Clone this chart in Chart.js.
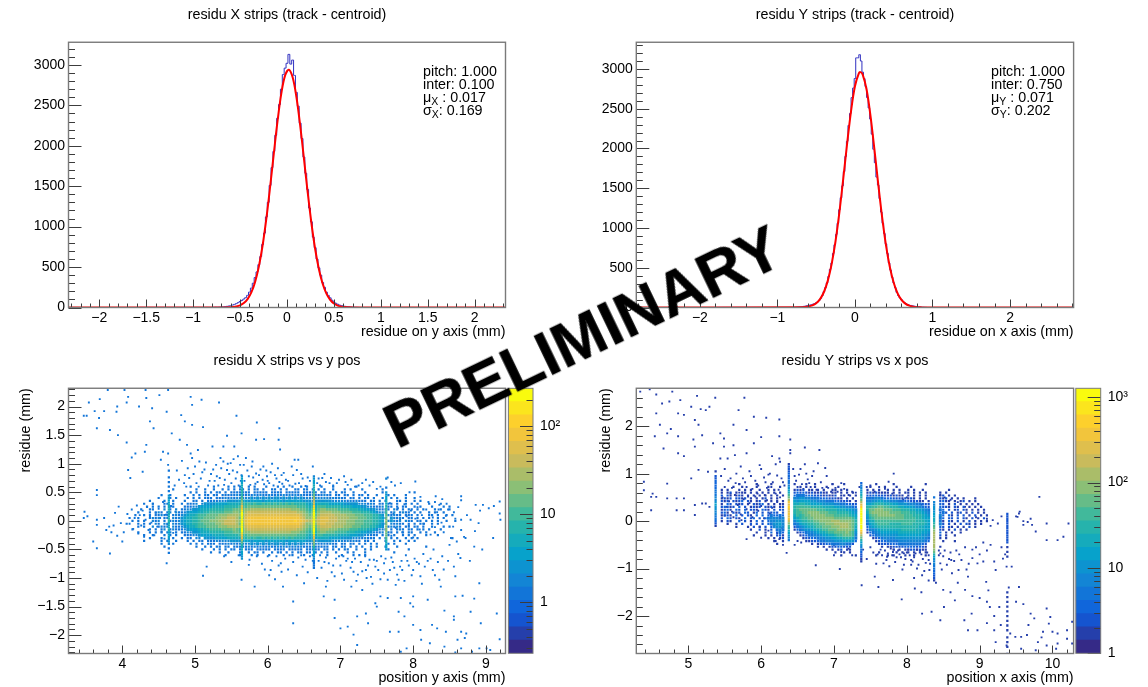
<!DOCTYPE html>
<html><head><meta charset="utf-8">
<style>
html,body{margin:0;padding:0;background:#fff;overflow:hidden;width:1148px;height:687px;font-family:"Liberation Sans",sans-serif}
body{filter:blur(.3px)}
canvas{position:absolute}
.stat{position:absolute;font-size:14.3px;line-height:14px;color:#000;white-space:nowrap}
.stat sub{font-size:10.5px;line-height:0;vertical-align:-3px}
#prelim{position:absolute;left:368px;top:303px;width:400px;height:80px;text-align:center;font:bold 63px/80px "Liberation Sans",sans-serif;color:#000;-webkit-text-stroke:.5px #000;transform:rotate(-25.6deg);white-space:nowrap}
</style>
<script src="https://cdn.jsdelivr.net/npm/chart.js@4"></script>
</head><body>
<canvas id="c1" width="574" height="341" style="left:0;top:0"></canvas>
<canvas id="c2" width="586" height="341" style="left:562px;top:0"></canvas>
<canvas id="c3" width="574" height="341" style="left:0;top:346px"></canvas>
<canvas id="c4" width="586" height="341" style="left:562px;top:346px"></canvas>
<canvas id="z3" width="68" height="341" style="left:506px;top:346px"></canvas>
<canvas id="z4" width="75" height="341" style="left:1073px;top:346px"></canvas>
<div class="stat" style="left:423px;top:64px">pitch: 1.000</div>
<div class="stat" style="left:423px;top:77px">inter: 0.100</div>
<div class="stat" style="left:423px;top:90px">μ<sub>X</sub> : 0.017</div>
<div class="stat" style="left:423px;top:103px">σ<sub>X</sub>: 0.169</div>
<div class="stat" style="left:991px;top:64px">pitch: 1.000</div>
<div class="stat" style="left:991px;top:77px">inter: 0.750</div>
<div class="stat" style="left:991px;top:90px">μ<sub>Y</sub> : 0.071</div>
<div class="stat" style="left:991px;top:103px">σ<sub>Y</sub>: 0.202</div>
<div id="prelim">PRELIMINARY</div>
<script>
const FONT='"Liberation Sans",sans-serif';
const palette=['#352a87','#253fab','#1554cf','#1066db','#1275d8','#1385d5','#0d93d0','#07a2cb','#15abbc','#26b3ac','#41b99b','#66bc88','#8bbf76','#aabd69','#c9bb5c','#dfbf4d','#f2c53c','#fdd02c','#fbe51d','#f9fb0e'];

// residual histograms: counts per 0.02 mm bin, starting at the first bin centre
const histBinStart=-0.80, histBinWidth=0.02;
const histX=[1,2,4,3,5,6,8,10,14,18,22,30,38,48,60,74,88,105,122,150,190,240,300,370,440,530,630,780,920,1120,1300,1510,1730,1930,2130,2340,2510,2700,2880,2960,3020,3130,3010,3060,2870,2660,2490,2280,2090,1860,1660,1460,1230,1060,870,740,600,490,400,310,250,190,150,120,90,68,52,40,30,24,18,14,10,8,6,4,3,2,1];
const histY=[1,2,3,5,7,9,11,14,17,22,26,30,36,42,50,60,72,90,115,150,200,250,310,390,480,560,680,790,920,1060,1230,1380,1530,1710,1900,2090,2290,2440,2640,2760,2880,3140,3140,3180,3100,2960,2880,2780,2640,2510,2370,2180,1990,1820,1640,1540,1370,1200,1060,930,800,680,560,470,380,310,250,190,150,120,100,78,60,48,38,30,26,22,18,14,11,8,6,4,3,2,1];
// fitted curves
const fitXx=[-2.33,-0.66,-0.62,-0.58,-0.54,-0.50,-0.46,-0.42,-0.38,-0.34,-0.30,-0.26,-0.22,-0.18,-0.14,-0.10,-0.06,-0.02,0.02,0.06,0.10,0.14,0.18,0.22,0.26,0.30,0.34,0.38,0.42,0.46,0.50,0.54,0.58,0.62,0.66,0.72,2.33];
const fitXy=[0,1,2,6,13,27,55,104,186,316,506,767,1099,1490,1909,2313,2650,2870,2940,2846,2606,2256,1847,1428,1045,723,473,293,171,95,49,24,11,5,2,0,0];
const fitYx=[-2.82,-0.70,-0.65,-0.60,-0.55,-0.50,-0.45,-0.40,-0.35,-0.30,-0.25,-0.20,-0.15,-0.10,-0.05,0,0.05,0.07,0.10,0.15,0.20,0.25,0.30,0.35,0.40,0.45,0.50,0.55,0.60,0.65,0.70,0.75,0.80,0.85,0.92,2.82];
const fitYy=[0,2,5,12,26,54,106,195,338,548,837,1203,1627,2069,2474,2783,2944,2960,2930,2742,2414,1998,1556,1140,785,509,311,178,96,49,23,10,4,2,0,0];

// tick labels
const ticksTLx=[-2,-1.5,-1,-0.5,0,0.5,1,1.5,2], ticksHistY=[0,500,1000,1500,2000,2500,3000];
const ticksTRx=[-2,-1,0,1,2];
const ticksBLx=[4,5,6,7,8,9], ticksBLy=[-2,-1.5,-1,-0.5,0,0.5,1,1.5,2];
const ticksBRx=[5,6,7,8,9,10], ticksBRy=[-2,-1,0,1,2];

// dense cells of residue vs position, colour band per cell, rows top to bottom
const gridLx0=3.98, gridLdx=0.04, gridLy0=0.60, gridLdy=0.05;
const gridL=[
"....................  ....4.......4....4.4. 4..4.4...4...4.4..4..4. 4.. ..4...4.......4....... ..........................",
"..................4. ......4..4..4..4.4.4. 44.4.44.4..44.4.4..44.4 4.4 .4.4..4...4.4...4.... ..4.......................",
".................... ....4.4..4.4.44.4.444 4444.44444.4444.44444.4 444 4.44.4.4.44..4...4... ..4..........4............",
"..............4..4.. ..4..4.4.44.44.4444454 44545454454454545454544 454 44544.44.44.4.44.4..4. ..4.4...4.................",
".............4...4.4 ...4.4.4.444.444545455 55565656565665656565655 545 5555454544.44.4.44.4.. 4..4.4..4..4..............",
"..........4....4..4. ..4..44.4.445455566667 77677776777777677777766 656 66666555554545444.44.4 .4...44.4..4.4...........",
"........4..4...44.4. .4.4445.56666777788888 99a9a99a9a9a9a9a9a99998 777 88887777766666555454.4 4.44.4..4.4.4...4...4.....",
".........4.4.4.4.44. ..4445567777888899999a aabbbbbbbbbbbbbbbbbaaa9 888 aaa9999988887776655444 5.44.4.44..4.4...4...4.4..",
".......4..44...5.4.5 .445566788899999aaabbb bccddddddddddddddcccbba 9a9 bccbbbbaaaa99988776654 454.54.4.44.4.4...4.4..4..",
"......4...4.454.45.5 44567778899aaaaabbbccb bdeeeeeeeeeeeeeeeeeddcb aba cddddcccbbbbaaa9998765 55.45.4544.4.4..4.4..4....",
".....4..4.4.44544.45 4567889aaabbbbcccddddc ceffffffffffffffffffedc bcb deeeeeddddcccbbbaaa998 6.54544.444.4...44.4..4.4.",
"...4..4...4545.44.54 5678899aabbbbccddeeedb cfggggggggggggggggggfec cdc efffeeeddddcccbbbaa998 75.65454.44.4.4.4..4.4....",
"....4.4.4..545.4.454 5678899abbbcccddeeeedc dfgggggggggggggggghggfe ded efffeeedddcccbbbaaa998 7.56545.544.44.4.4.4..4..4",
"..4...4.4.4.54.54.54 5678899aabbbbccdeeeedb cfggggggggggggggggggfec cdc effeeeddddcccbbbaaa998 65.54544.4.4.44..4.4......",
"......4.4..5.4545.54 4567889aaabbbbcccddddc ceffffffffffffffffffedc bcb deeeeddddcccbbbaaa9987 6.45454.44.44.4..4...4.4..",
"....4.....4.4.45.454 44567778899aaaabbbbcba bdeeeeeeeeeeeeeeeeeddcb aba cdddcccbbbbaaa99988765 54.4.454.44.4.4.4...4.....",
"......4...4.4.4.45.4 .445566788899999aaabba bccddddddddddddddcccbba 9a9 bccbbbaaaa999887766544 5.44.4.4.44..4.4..4.......",
"........4..4...4.4.4 ..4445567777888899999a aabbbbbbbbbbbbbbbbbaaa9 888 aa9999988887776655444. 4.4.4..4.4.4...4...4......",
"..........4...4...4. .4.44.55.6666777788888 99a9a99a9a9a9a9a9a99998 777 88887777666655545444.4 .4.4.4..4.4.4...........4",
"........4.....4.4..4 ...4.4.44.4445455566667 77677776777777677777766 656 66665555454544.44.4... 4..4.4..4.4...............",
"..............4...4. ....4.4.4.444.44454545 55565656565665656565655 545 5454544.44.44.4.4.4.4. ..4.4...4.................",
"...............4.... ......4..4.4.44.44.444 44545454454454545454544 454 4444.44.44.4.4.4..4.4. .4...4.........4..........",
".................... ........4...4.4.4.44.4 .444.44444.4444.44444.4 444 4.44.4.4.44..4..4.4... ..4......4................",
".................... ...........4..4..4...4 ..4.44.4..4.44.4.4.44.4 4.4 .4.4..4...4.4...4..... ....4.....................",
".................... ................4....4 ...4.4...4....4..4...4. .4. ...4....4...4.4.4..... ........................."
];
const gridRx0=5.46, gridRdx=0.04, gridRy0=0.78, gridRdy=0.06;
const gridR=[
"......1.....1....1.... ... 1...1..1.....1...1.... ... ...1.....1..........1. ... .................",
"....1..1....1...1...1. ... ..1.1..1...1...1...... ... .1....1...1....1...... ... .................",
"1.1...1.1.1..1..1.1... ... 1212.11.1.1..11.1.1... ... 1.1.1..1.1.1..1.1..1.. ... ...1.............",
"1.12.1.11.1.1.1.1.1.1. ... 232321211211.11.1.1.1. ... 12121111.1.1.11.1.1.1. ... 1.1..............",
"2.21.121.1.1.1.1.1.1.1 ... 344433322212112.11.1.1 ... 2233222121211.1.1.1.1. ... 12.1.1...........",
"1212.2212.1.1.12.1.1.. ... 55665544433322211.1.1. ... 44455433322212121.1.1. ... 212.1.1.1...1....",
"212.2123.21.12.1.1.1.1 ... 76777766555444332221.1 ... 55667766555443322211.1 ... 2311.1.12.1.1....",
"1.32.212.1.2123.1.1.11 ... 8899887777666655443322 ... 7789998887766655544322 ... 32.1.2.1.1.1.1...",
"23212.3.2.1212.2121.12 ... 9aaaaa9999888877665543 ... 99aabbaa99988777655432 ... 3221.21.2.1.1.1..",
"1231.32.3.221.321.2.22 ... 9abbbbbbaaa99998887765 ... 9bbcccbbbaaa9998877654 ... 43.2.12.21.1.1.1.",
"231.212.32.13.2.2232.2 ... 9aabbccccbbbaaa9999876 ... 8bccccccbbbbaaa9988765 ... 342.2.12.1.2.1.1.",
"1221.3.2.21.3.3.243343 ... 8a9abbcccccbbbaaaaa987 ... 7abbccccccbbbaaa999876 ... 53.31.2.2.1.2.1.1",
"2.32.21.3.23.2.3455545 ... 789aabbcccccccbbbbbba8 ... 69abbbbbbbbbbaaaa99877 ... 43.22.2.21.2.1.2.",
"1.21..3.2.1.3.2.355665 ... 57899aabbccccdddccccb9 ... 588aaaaaaaaaaaaaa99987 ... 41.31.2.1.2.1.1.1",
"..1..1.2..2.2.2.346675 ... 4578899aabbcccdddddcb9 ... 4789aaaa9999aaaa999987 ... 52.2.1.2.21.1.1..",
".....1...1.2.1.2.35665 ... 24567889aabbbcccdddcb8 ... 3678999999999999998877 ... 32.21.1.1.2.1....",
"..........1..2.1.2.454 ... 1345667889aabbbcccccb7 ... 2556788888889999988877 ... 21.1.2.1.1.......",
"............1..1.3.243 ... .12345567889aabbbbcba6 ... 1345677777788888888776 ... 3.1.1..1.........",
"...........1...1.1.231 ... ..1234455677889aabbba5 ... .234566666677777777665 ... 2.1..1...........",
"................1.1.12 ... ...1223345566778899984 ... ..12345555666666666654 ... 1.1..............",
"..................1..1 ... ....112234455566677763 ... ...1233444455555555543 ... .1...1...........",
"...................1.. ... ......1.1223344455442. ... ....12223334444444432. ... .................",
"...................... ... ........1.1.12233222.. ... .....1.11222233332321. ... 1................",
"...................... ... ...........1.1.12.11.. ... .........1.1.11221211. ... .................",
"...................... ... ..............1..1.1.. ... ....1.....1.1.1.1.1.1. ... .................",
"...................... ... ................1....1 ... ...1...1.1...1..1...1. ... ................."
];
// strip columns: x position, top y, and colour bands going down
const stripDyL=0.04, stripDyR=0.05;
const stripsLx=[4.64,5.645,6.635,7.63], stripsLtop=[0.88,0.78,0.78,0.74];
const stripsL=["4..4.4.4.4.6677888888998888777665.4.4","677788999abcdfgijjjjjjjjjigfdb9887766","5677889abcdefhijjjjjjjjjjjhfdcb9877654444","5...4.66778899aabbccccccbba98776"];
const stripsRx=[5.375,6.38,7.375,8.375,9.38], stripsRtop=[1.05,1.2,0.8,0.5,0.15];
const stripsR=["1.2233334445567665544321","1222333445678abdgfhgfgfgeca987654","3456789bdfhjjjjjjjjjhfdb9765432211","4.5566677889abcdddddddcb976554433221","2222222222222.1.1.1..............1.1.1.1.1.1.1.1.1..1.1.1..1"];

// single-count cells, x,y pairs
const sparseL=[3.47,1.84,3.51,1.84,3.54,2.07,3.62,1.92,3.69,2.13,3.80,2.29,3.75,1.92,3.68,1.80,3.65,1.62,3.83,1.59,3.94,1.50,3.93,2.00,3.92,1.91,4.03,2.29,4.08,2.17,4.06,2.07,4.23,2.0,4.33,2.15,4.32,2.29,4.51,2.2,4.63,2.29,4.38,1.74,4.43,1.62,4.41,1.97,4.61,1.91,4.81,1.85,4.94,2.17,4.96,2.03,5.09,2.12,5.33,2.07,4.86,1.74,4.96,1.68,5.11,1.64,5.57,1.84,5.85,1.72,6.16,1.62,5.44,1.49,5.64,1.53,5.84,1.42,5.95,1.43,6.15,1.42,6.17,1.25,5.54,1.30,5.39,1.30,5.24,1.3,5.04,1.24,4.94,1.18,4.63,1.18,4.56,1.21,4.33,1.33,4.31,1.21,4.18,1.18,4.13,1.11,4.06,1.37,4.68,1.53,4.79,1.42,4.89,1.33,4.08,.89,4.11,.75,4.28,.86,4.53,1.07,4.63,.98,4.86,.8,4.96,1.1,5.06,1.04,5.29,.98,5.39,1.04,5.49,1.01,5.59,1.13,5.67,.98,5.79,1.04,5.94,.95,6.37,1.07,6.42,1.07,6.14,.92,5.84,.83,5.64,.8,5.44,.89,5.34,.75,5.99,.78,6.19,.8,6.4,.89,6.75,.75,6.87,.75,7.05,.78,7.65,.76,8.03,.69,7.83,.66,
4.72,.62,4.78,.72,4.85,.66,4.9,.92,4.98,.82,5.02,.66,5.08,.74,5.13,.9,5.18,.62,5.22,.82,5.27,.7,5.32,.62,5.36,.92,5.41,.72,5.45,1.0,5.5,.66,5.52,.88,5.56,.74,5.6,.62,5.62,.98,5.68,.7,5.72,.88,5.76,.63,5.8,.76,5.86,.68,5.9,.9,5.95,.64,6,.7,6.04,.85,6.08,.62,6.12,.74,6.2,.65,6.25,.72,6.3,.62,6.35,.8,6.43,.66,6.48,.74,6.52,.61,6.58,.7,6.68,.66,6.72,.62,6.8,.68,6.9,.62,6.95,.66,7.1,.63,7.2,.6,7.3,.66,7.4,.62,7.55,.6,7.75,.62,7.95,.5,8.1,.42,8.3,.33,
4.75,.88,4.82,1.05,4.88,.6,4.92,.75,5,.95,5.05,.6,5.1,.85,5.15,1.02,5.2,.7,5.25,.9,5.3,.78,5.35,1.1,5.4,.63,5.47,.82,5.53,1.08,5.58,.85,5.63,.7,5.7,1.1,5.74,.78,5.78,.95,5.83,.65,5.88,.8,5.93,.72,5.98,.88,6.02,.66,6.06,1.0,6.1,.8,6.16,.68,6.22,.84,6.28,.7,6.33,.95,6.38,.65,6.46,.82,6.55,.76,6.62,.95,6.7,.74,6.78,.82,6.85,.66,6.98,.72,7.07,.68,7.15,.72,7.25,.62,7.35,.72,7.45,.68,7.5,.56,7.7,.68,
4.61,-.74,5.16,-.8,5.11,-.96,5.64,-1.03,5.82,-1.15,5.74,-.77,6.04,-.86,6.19,-.89,6.35,-1.41,6.35,-1.79,6.21,-1.15,6.5,-1.09,6.77,-1.32,6.8,-1.15,6.92,-.97,6.92,-1.38,7.0,-1.88,6.92,-1.7,7.18,-1.99,7.23,-2.17,7.1,-1.85,7.23,-1.67,7.38,-1.79,7.35,-1.62,7.48,-1.44,7.5,-1.5,7.55,-1.32,7.3,-1.21,7.15,-1.15,7.05,-1.03,7.18,-.89,7.35,-.86,7.48,-.8,7.6,-.92,7.65,-1.03,7.8,-1.03,7.85,-.86,8,-.86,8.1,-.97,8.27,-.86,8.36,-1.03,8.58,-.97,8.91,-1.09,8.38,-1.15,8,-1.32,7.83,-1.35,7.65,-1.35,8,-1.5,8.2,-1.38,7.96,-1.44,8.58,-1.32,8.68,-1.31,8.84,-1.36,7.8,-1.59,7.88,-1.67,8.43,-1.57,8.79,-1.59,8.56,-1.67,8.56,-1.73,9.15,-1.62,8.1,-1.91,8.26,-1.82,8.33,-1.88,7.68,-1.94,7.8,-1.94,8,-1.82,8.45,-1.94,8.66,-1.94,8.73,-1.97,8.93,-1.79,8.11,-2.08,8.23,-2.14,8.43,-2.2,8.61,-2.08,8.71,-2.05,9.19,-2.07,7.83,-2.29,7.91,-2.23,8.66,-2.23,8.81,-2.29,8.58,-2.3,8.91,-2.23,9.01,-2.23,9.06,-2.26,
6,-.62,6.06,-.7,6.12,-.62,6.18,-.74,6.24,-.66,6.3,-.6,6.35,-.72,6.42,-.64,6.48,-.8,6.52,-.68,6.58,-.62,6.7,-.7,6.74,-.82,6.8,-.64,6.84,-.74,6.88,-.9,6.94,-.66,7,-.78,7.04,-.62,7.08,-.7,7.14,-.82,7.2,-.66,7.24,-.94,7.28,-.72,7.34,-.62,7.38,-.78,7.42,-.98,7.46,-.68,7.52,-.86,7.56,-.62,7.6,-.74,7.7,-.64,7.74,-.82,7.78,-.94,7.84,-.7,7.9,-.6,7.94,-.78,8.02,-.66,8.08,-.75,8.14,-.58,8.2,-.7,8.28,-.5,8.4,-.62,8.5,-.42,8.62,-.58,8.72,-.3,8.84,-.45,8.95,-.5,9.1,-.3,
5.4,-.62,5.5,-.72,5.6,-.6,5.75,-.68,5.85,-.62,5.92,-.75,5.96,-.85,6.02,-.95,6.1,-1.02,6.15,-.78,6.28,-.85,6.4,-.95,6.46,-.6,6.55,-.9,6.62,-.7,6.68,-1,6.72,-.6,6.78,-.72,6.82,-1.05,6.9,-.78,6.98,-.62,7.02,-.92,7.1,-.66,7.16,-.72,7.22,-1.05,7.3,-.88,7.36,-1,7.4,-.68,7.44,-1.1,7.5,-.7,7.55,-1.02,7.62,-.66,7.68,-.86,7.72,-.72,7.76,-1.12,7.82,-.8,7.88,-1.05,7.92,-.7,7.98,-.95,8.05,-.72,8.12,-1.1,8.16,-.8,8.24,-.66,8.3,-.95,8.34,-.72,8.42,-.85,8.48,-.7,8.56,-.8,8.65,-.65,8.78,-.7,
3.48,.16,3.47,.05,3.52,.08,3.65,.54,3.65,.45,3.65,.02,3.65,-.07,3.6,-.36,3.65,-.48,3.83,-.57,3.78,-.16,3.85,-.2,3.98,-.04,3.95,.25,3.9,.14,3.88,-.08,3.82,-.1,3.93,-.26,4,-.36,4.02,-.2,3.75,.05,
4.07,.12,4.1,-.05,4.13,.2,4.15,-.14,4.17,.05,4.2,.27,4.22,-.22,4.24,.1,4.26,-.08,4.28,.18,4.3,-.28,4.32,.02,4.34,.24,4.36,-.16,4.38,.08,4.4,-.03,4.42,.3,4.44,-.25,4.46,.14,4.48,-.1,4.5,.21,4.52,.05,4.54,-.19,4.56,.33,4.58,-.31,4.6,.11,4.62,-.06,4.67,.26,4.7,-.21,4.73,.16,
7.68,.31,7.7,-.26,7.73,.12,7.76,-.12,7.79,.22,7.82,.03,7.85,-.2,7.88,.29,7.91,.08,7.94,-.08,7.97,.18,8,-.29,8.03,.04,8.06,.24,8.09,-.15,8.12,.1,8.15,-.05,8.18,.2,8.21,.33,8.24,-.24,8.27,.06,8.3,-.11,8.33,.15,8.36,.28,8.39,-.03,8.42,-.2,8.45,.09,8.48,.2,8.52,-.3,8.58,.04,
8.31,.43,8.66,.43,8.66,.36,9.19,.34,9.19,.13,8.86,.28,8.96,.28,8.66,.02,8.79,.02,8.66,-.16,8.6,-.36,8.92,.18,9.04,.22,9.11,.26,8.74,.1,8.56,.15,8.62,.24,8.46,.3,8.4,.38,8.35,.2,8.9,-.04,9.2,.02,8.85,-.18,8.7,-.28,8.55,-.1];
const sparseR=[4.34,2.73,4.47,2.78,4.56,2.67,4.78,2.73,5.12,2.64,5.37,2.6,5.77,2.6,4.64,2.48,4.74,2.52,4.89,2.55,5.04,2.41,5.29,2.41,5.17,2.36,4.56,2.27,4.86,2.27,4.94,2.24,5.09,2.13,5.24,2.34,5.69,2.34,5.9,2.2,6.07,2.18,6.25,2.14,4.61,2.03,4.76,1.94,4.71,1.85,4.54,1.79,4.86,1.79,5.14,2.03,5.19,1.81,5.44,1.85,5.49,1.74,5.62,2.03,5.8,1.92,6,1.77,6.25,1.79,6.4,1.72,5.07,1.72,5.09,1.57,5.34,1.64,4.66,1.53,4.86,1.43,4.94,1.37,5.49,1.57,5.62,1.6,5.9,1.64,6.6,1.55,6.8,1.5,6.4,1.5,6.4,1.43,5.44,1.32,5.54,1.32,5.64,1.39,5.8,1.43,6.15,1.37,6.25,1.32,5.14,1.08,5.27,1.04,5.04,.9,4.71,.79,4.39,.83,4.39,.65,4.51,.58,4.49,.51,4.56,.51,4.71,.48,4.84,.48,4.94,.48,5.09,.34,5.19,.37,5.24,.37,5.29,.3,4.84,.23,4.94,.23,5.09,.13,4.49,.23,
5.5,.72,5.55,.85,5.6,.7,5.66,1,5.7,.78,5.75,.9,5.8,.72,5.84,1.05,5.88,.68,5.92,.85,5.96,.75,6,1.1,6.04,.92,6.08,.7,6.12,1.0,6.16,.82,6.2,1.2,6.24,.66,6.28,.9,6.32,.75,6.44,1.1,6.48,.85,6.52,.98,6.56,.78,6.6,1.2,6.64,.88,6.68,.72,6.72,1.05,6.76,.66,6.82,.82,6.88,1.12,6.92,.7,6.96,.62,7.02,.7,7.1,.8,7.2,.55,7.3,.6,7.45,.72,7.56,.62,7.7,.68,7.82,1.0,7.75,.83,7.95,.45,8.1,.38,8.46,.55,8.52,.5,8.6,.45,8.7,.4,8.8,.3,
5.47,.5,5.52,.3,5.56,.42,5.6,.2,5.64,.55,5.68,.34,5.72,.14,5.76,.46,5.8,.25,5.84,.38,5.88,.08,5.92,.52,5.96,.22,6,.32,6.04,.06,6.08,.44,6.12,.16,6.15,.28,6.18,-.08,6.22,.4,6.26,.5,6.29,-.14,5.58,.58,5.7,.6,5.82,.52,5.95,.58,6.05,.55,6.2,.58,5.5,.12,5.62,.08,5.73,.02,5.86,-.08,5.98,-.12,6.1,-.2,6.22,-.25,
5.45,.95,5.5,1.1,5.58,.9,5.65,.8,5.72,1.15,5.78,.82,5.86,.95,5.94,.78,5.98,1.18,6.06,.82,6.1,.98,6.14,.72,6.22,.96,6.26,1.25,6.3,.82,6.46,.95,6.5,.72,6.54,1.1,6.58,.68,6.62,1.0,6.66,.8,6.7,.95,6.74,.78,6.78,1.22,6.84,.7,6.9,.95,6.98,.78,7.05,.62,7.14,.68,7.25,.62,7.35,.72,7.5,.75,7.62,.72,7.8,.58,8.0,.5,8.2,.35,
9.82,.51,9.54,.16,9.52,.09,9.92,-.05,10.22,-.05,10.15,-.33,10.07,-.4,10.3,-.33,9.72,-.08,9.6,-.08,9.92,-.4,9.77,-.22,9.1,.05,9.18,.02,9.15,-.1,9.25,-.05,9.3,.1,8.95,.08,9.5,.1,9.55,.2,9.6,.0,9.66,-.02,9.7,.05,
6.35,-.67,6.75,-.93,7.08,-1.01,7,-.72,7.38,-1.35,7.61,-1.39,7.93,-1.65,7.81,-1.24,8.11,-1.42,8.21,-1.95,8.34,-1.91,8.46,-2.09,8.51,-1.81,8.66,-1.67,8.84,-2.3,8.97,-2.3,8.79,-2.09,8.89,-1.95,9.14,-1.81,9.27,-1.81,9.29,-2.19,9.42,-2.37,9.57,-2.44,9.67,-2.19,9.87,-2.33,9.92,-1.84,9.97,-2.02,9.95,-2.16,10,-2.33,10.07,-2.37,10.2,-2.3,10.27,-2.12,9.8,-2.55,9.92,-2.62,10.07,-2.58,10.2,-2.48,10.27,-2.58,10.05,-2.69,9.57,-2.69,9.77,-2.72,9.22,-2.55,9.37,-2.62,9.49,-2.44,9.12,-1.46,9.54,-1.39,9.37,-.96,9.44,-.96,9.22,-1.03,9.32,-.79,9.09,-1.28,8.97,-.89,8.84,-1.17,8.71,-1.03,8.61,-.82,8.46,-.89,8.46,-.68,8.31,-1.03,8.21,-1.14,8.14,-1,8.06,-.82,7.96,-.68,7.81,-.65,7.73,-.75,7.68,-.89,7.56,-1.17,
6,-.35,5.8,-.38,6.25,-.38,6.2,-.42,6.3,-.5,6.3,-.42,6.46,-.5,6.5,-.42,6.55,-.45,7.4,-.6,7.5,-.55,7.6,-.7,7.64,-.6,7.7,-.62,7.72,-.82,7.78,-.58,7.8,-.72,7.84,-.86,7.88,-.62,7.92,-.76,7.96,-.92,8,-.66,8.04,-.72,8.08,-.85,8.12,-.68,8.16,-.92,8.18,-.62,8.22,-.8,8.24,-1.05,8.28,-.66,8.3,-.72,8.32,-.9,8.44,-.62,8.5,-.74,8.55,-.92,8.6,-.66,8.65,-.84,8.72,-.7,8.8,-.55,8.85,-.9,8.9,-.6,9,-.7,9.05,-.45,9.15,-.5,7,-.5,7.1,-.65,7.2,-.58,7.25,-.72,
7.45,-.8,7.54,-.66,7.58,-.9,7.66,-.72,7.74,-.68,7.76,-.95,7.82,-.6,7.86,-.76,7.9,-.7,7.94,-1.02,7.98,-.8,8.02,-.6,8.06,-.92,8.1,-.76,8.14,-.6,8.2,-.7,8.26,-.88,8.3,-.82,8.44,-.72,8.48,-1.02,8.52,-.62,8.58,-.8,8.62,-1.1,8.68,-.62,8.75,-.82,8.82,-1.02,8.9,-.78,8.95,-.55,9.05,-.85,9.1,-.62,9.2,-.85,9.3,-.55,9.35,-.7,8.7,-1.3,8.8,-1.45,8.9,-1.58,9,-1.62,9.1,-1.7,9.2,-2,8.6,-1.5,8.5,-1.45,8.4,-1.3,8.3,-1.25,8.2,-1.5,8.1,-1.2,9.1,-2.15,9.2,-2.3,9.4,-1.4,9.5,-1.7,9.6,-1.75,9.7,-1.95,9.75,-2.05,9.85,-2.45,9.65,-2.4];

// colour bar
const zLeft={min:0.263,max:270,major:[1,10,100],minor:[.3,.4,.5,.6,.7,.8,.9,2,3,4,5,6,7,8,9,20,30,40,50,60,70,80,90,200]};
const zRight={min:1,max:1268,major:[1,10,100,1000],minor:[2,3,4,5,6,7,8,9,20,30,40,50,60,70,80,90,200,300,400,500,600,700,800,900]};
const zLabels={1:'1',10:'10',100:'10²',1000:'10³'};

function fmt(v){return String(v).replace('-','−');}
function histPoints(vals,lo,hi){
  const p=[{x:lo,y:0}];
  vals.forEach((v,i)=>p.push({x:histBinStart+histBinWidth*i,y:v}));
  p.push({x:histBinStart+histBinWidth*vals.length,y:0},{x:hi,y:0});
  return p;
}
function zip(xs,ys){return xs.map((x,i)=>({x,y:ys[i]}));}
function cells(rows,x0,dx,y0,dy,low){
  const pts=[],cols=[],rad=[];
  rows.forEach((r,j)=>{[...r.replace(/ /g,'')].forEach((c,i)=>{
    if(c!=='.'){const lv=parseInt(c,36);pts.push({x:x0+dx*i,y:y0-dy*j});cols.push(palette[lv]);rad.push(lv<=low?1.55:2.1);}
  });});
  return {pts,cols,rad};
}
function stripCells(xs,tops,strs,dy){
  const pts=[],cols=[];
  strs.forEach((s,k)=>{[...s].forEach((c,j)=>{
    if(c!=='.'){pts.push({x:xs[k],y:tops[k]-dy*j});cols.push(palette[parseInt(c,36)]);}
  });});
  return {pts,cols,rad:1.6};
}
function pairs(a){const p=[];for(let i=0;i<a.length;i+=2)p.push({x:a[i],y:a[i+1]});return p;}

const AXIS='#7a7a7a',TICK='#3c3c3c';
function frame(sp){return {id:'frame',afterDatasetsDraw(ch){
  const {ctx,chartArea:a,scales:{x,y}}=ch;
  ctx.save();ctx.lineWidth=1;ctx.strokeStyle=TICK;ctx.beginPath();
  const vt=(v,l)=>{const p=Math.round(x.getPixelForValue(v))+.5;ctx.moveTo(p,a.bottom);ctx.lineTo(p,a.bottom-l);};
  const ht=(v,l)=>{const p=Math.round(y.getPixelForValue(v))+.5;ctx.moveTo(a.left,p);ctx.lineTo(a.left+l,p);};
  const xs=sp.xStep;for(let k=Math.ceil(x.min/xs);k*xs<=x.max;k++){const v=k*xs;const maj=Math.abs(v/sp.xMaj-Math.round(v/sp.xMaj))<1e-6;vt(v,maj?8:4);}
  const ys=sp.yStep;for(let k=Math.ceil(y.min/ys);k*ys<=y.max;k++){const v=k*ys;const maj=Math.abs(v/sp.yMaj-Math.round(v/sp.yMaj))<1e-6;ht(v,maj?13:6.5);}
  ctx.stroke();
  ctx.strokeStyle=AXIS;ctx.lineWidth=1.4;ctx.strokeRect(a.left,a.top,a.right-a.left,a.bottom-a.top);
  ctx.restore();
}};}
function panel(id,title,L,R,sp,datasets,xr,yr,xt,yt,xTitle,yTitle,yTitlePad){
  const f={family:FONT,size:14},ft={family:FONT,size:14.3};
  new Chart(document.getElementById(id),{
    type:'scatter',
    data:{datasets},
    options:{responsive:false,animation:false,events:[],devicePixelRatio:1,
      layout:{padding:0},
      plugins:{legend:{display:false},tooltip:{enabled:false},
        title:{display:true,text:title,color:'#000',font:{family:FONT,size:14.3,weight:'normal',lineHeight:1.2},padding:{top:6.5,bottom:18.6}}},
      scales:{
        x:{type:'linear',min:xr[0],max:xr[1],grid:{display:false,drawTicks:false},border:{display:false},
          afterBuildTicks(s){s.ticks=xt.map(value=>({value}));},
          afterFit(s){s.height=33.5;},
          ticks:{color:'#000',font:f,padding:2.5,autoSkip:false,maxRotation:0,minRotation:0,callback:fmt},
          title:{display:true,text:xTitle,align:'end',color:'#000',font:ft,padding:{top:0.4,bottom:0}}},
        y:{type:'linear',min:yr[0],max:yr[1],grid:{display:false,drawTicks:false},border:{display:false},
          afterBuildTicks(s){s.ticks=yt.map(value=>({value}));},
          afterFit(s){s.width=L;},
          ticks:{color:'#000',font:f,padding:3.5,autoSkip:false,maxRotation:0,minRotation:0,callback:fmt},
          title:{display:!!yTitle,text:yTitle||'',align:'end',color:'#000',font:ft,padding:{top:yTitlePad,bottom:0}}},
        yr:{type:'linear',position:'right',min:0,max:1,grid:{display:false,drawTicks:false},border:{display:false},ticks:{display:false},afterFit(s){s.width=R;}}
      }},
    plugins:[frame(sp)]
  });
}
function lineDs(data,color,w,extra){return Object.assign({data,showLine:true,borderColor:color,borderWidth:w,pointRadius:0,fill:false},extra);}
function cellDs(c){return {data:c.pts,pointStyle:'rect',pointRadius:c.rad,pointBorderWidth:0,pointBackgroundColor:c.cols,showLine:false};}
function sparseDs(a,col,r){return {data:pairs(a),pointStyle:'rect',pointRadius:r,pointBorderWidth:0,pointBackgroundColor:col,showLine:false};}

panel('c1','residu X strips (track - centroid)',68.5,68.5,{xStep:.1,xMaj:.5,yStep:100,yMaj:500},
  [lineDs(zip(fitXx,fitXy),'#ff0000',2,{tension:.35}),lineDs(histPoints(histX,-2.33,2.33),'#3030c0',1,{stepped:'middle'})],
  [-2.328,2.328],[0,3280],ticksTLx,ticksHistY,'residue on y axis (mm)');
panel('c2','residu Y strips (track - centroid)',74.3,74.4,{xStep:.2,xMaj:1,yStep:100,yMaj:500},
  [lineDs(zip(fitYx,fitYy),'#ff0000',2,{tension:.35}),lineDs(histPoints(histY,-2.82,2.82),'#3030c0',1,{stepped:'middle'})],
  [-2.82,2.82],[0,3336],ticksTRx,ticksHistY,'residue on x axis (mm)');
panel('c3','residu X strips vs y pos',68.5,68.5,{xStep:.2,xMaj:1,yStep:.1,yMaj:.5},
  [cellDs(stripCells(stripsLx,stripsLtop,stripsL,stripDyL)),cellDs(cells(gridL,gridLx0,gridLdx,gridLy0,gridLdy,5)),sparseDs(sparseL,palette[4],1.35)],
  [3.26,9.27],[-2.32,2.32],ticksBLx,ticksBLy,'position y axis (mm)','residue (mm)',17);
panel('c4','residu Y strips vs x pos',74.3,74.4,{xStep:.2,xMaj:1,yStep:.2,yMaj:1},
  [cellDs(stripCells(stripsRx,stripsRtop,stripsR,stripDyR)),cellDs(cells(gridR,gridRx0,gridRdx,gridRy0,gridRdy,3)),sparseDs(sparseR,palette[1],1.35)],
  [4.286,10.29],[-2.79,2.8],ticksBRx,ticksBRy,'position x axis (mm)','residue (mm)',35.6);

function colorbar(id,z,pl,axisW){
  const n=palette.length,ratio=Math.log(z.max/z.min)/n;
  const datasets=palette.map((c,i)=>({data:[[z.min*Math.exp(ratio*i),z.min*Math.exp(ratio*(i+1))]],backgroundColor:c,borderWidth:0,grouped:false,barPercentage:1,categoryPercentage:1}));
  new Chart(document.getElementById(id),{
    type:'bar',
    data:{labels:['z'],datasets},
    options:{responsive:false,animation:false,events:[],devicePixelRatio:1,
      layout:{padding:{left:pl,right:0,top:42.3,bottom:33.7}},
      plugins:{legend:{display:false},tooltip:{enabled:false},title:{display:false}},
      scales:{
        x:{display:false},
        y:{type:'logarithmic',position:'right',min:z.min,max:z.max,grid:{display:false,drawTicks:false},border:{display:false},
          afterBuildTicks(s){s.ticks=z.major.map(value=>({value}));},
          afterFit(s){s.width=axisW;},
          ticks:{color:'#000',font:{family:FONT,size:14},padding:7,autoSkip:false,maxRotation:0,minRotation:0,callback:v=>zLabels[v]||''}}
      }},
    plugins:[{id:'zticks',afterDatasetsDraw(ch){
      const {ctx,chartArea:a,scales:{y}}=ch;
      ctx.save();ctx.lineWidth=1;ctx.strokeStyle=TICK;ctx.beginPath();
      z.major.forEach(v=>{const p=Math.round(y.getPixelForValue(v))+.5;ctx.moveTo(a.right,p);ctx.lineTo(a.right-13,p);});
      z.minor.forEach(v=>{const p=Math.round(y.getPixelForValue(v))+.5;ctx.moveTo(a.right,p);ctx.lineTo(a.right-6.5,p);});
      ctx.stroke();
      ctx.strokeStyle=AXIS;ctx.lineWidth=1;ctx.strokeRect(a.left,a.top,a.right-a.left,a.bottom-a.top);
      ctx.restore();
    }}]
  });
}
colorbar('z3',zLeft,2.4,41);
colorbar('z4',zRight,2.8,47.3);
</script>
</body></html>
